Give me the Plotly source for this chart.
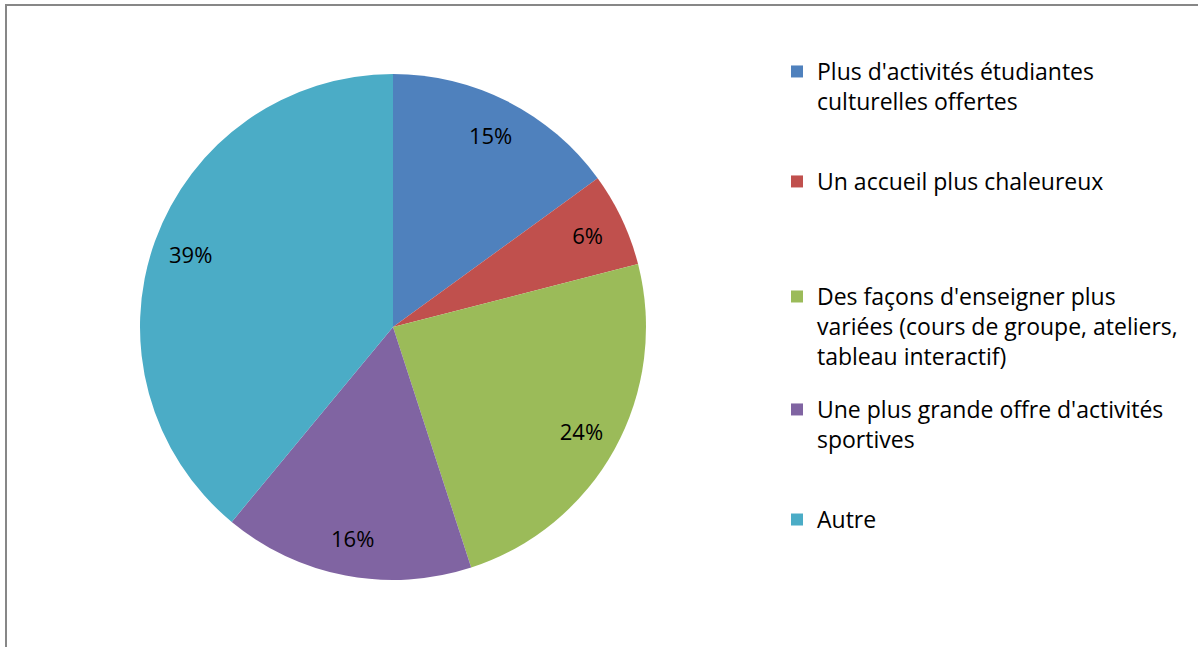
import plotly.graph_objects as go

labels = [
    "Plus d'activités étudiantes<br>culturelles offertes",
    "Un accueil plus chaleureux",
    "Des façons d'enseigner plus<br>variées (cours de groupe, ateliers,<br>tableau interactif)",
    "Une plus grande offre d'activités<br>sportives",
    "Autre",
]
values = [15, 6, 24, 16, 39]
colors = ["#4F81BD", "#C0504D", "#9BBB59", "#8064A2", "#4BACC6"]
legend_tops = [0.9227, 0.7527, 0.5749, 0.4003, 0.2302]

W, H = 1198, 647
FONT = "Open Sans"
pie_domain = dict(x=[140 / W, 646 / W], y=[1 - 580 / H, 1 - 74 / H])

fig = go.Figure()
# Filled slices
fig.add_trace(go.Pie(
    labels=labels, values=values, sort=False, direction="clockwise", rotation=0,
    marker=dict(colors=colors, line=dict(width=0)),
    textinfo="none", domain=pie_domain,
    showlegend=False, hoverinfo="label+percent",
))
# Transparent ring on top that carries the percentage labels near the rim
fig.add_trace(go.Pie(
    labels=labels, values=values, sort=False, direction="clockwise", rotation=0,
    hole=0.7,
    marker=dict(colors=["rgba(0,0,0,0)"] * len(values), line=dict(width=0)),
    texttemplate="%{percent:.0%}", textposition="inside",
    insidetextorientation="horizontal",
    textfont=dict(family=FONT, size=22, color="black"),
    domain=pie_domain, showlegend=False, hoverinfo="skip",
))

layout_legends = {}
for i, (lab, col, top) in enumerate(zip(labels, colors, legend_tops)):
    name = "legend" if i == 0 else f"legend{i+1}"
    fig.add_trace(go.Scatter(
        x=[None], y=[None], mode="markers", name=lab,
        marker=dict(symbol="square", size=14, color=col),
        legend=name, showlegend=True,
    ))
    layout_legends[name] = dict(
        x=777 / W, xanchor="left", y=top, yanchor="top",
        font=dict(family=FONT, size=23, color="black"),
        bgcolor="rgba(0,0,0,0)", valign="top",
        tracegroupgap=0, itemsizing="constant",
    )

fig.update_layout(
    width=W, height=H, margin=dict(l=0, r=0, t=0, b=0),
    paper_bgcolor="white", plot_bgcolor="white",
    xaxis=dict(visible=False), yaxis=dict(visible=False),
    shapes=[dict(type="rect", xref="paper", yref="paper",
                 x0=6 / W, x1=1.02, y0=-0.02, y1=1 - 5 / H,
                 line=dict(color="#878787", width=2), fillcolor="rgba(0,0,0,0)")],
    **layout_legends,
)
fig.write_html("out.html", config={"displayModeBar": False},
               post_script="document.body.style.margin='0';")
